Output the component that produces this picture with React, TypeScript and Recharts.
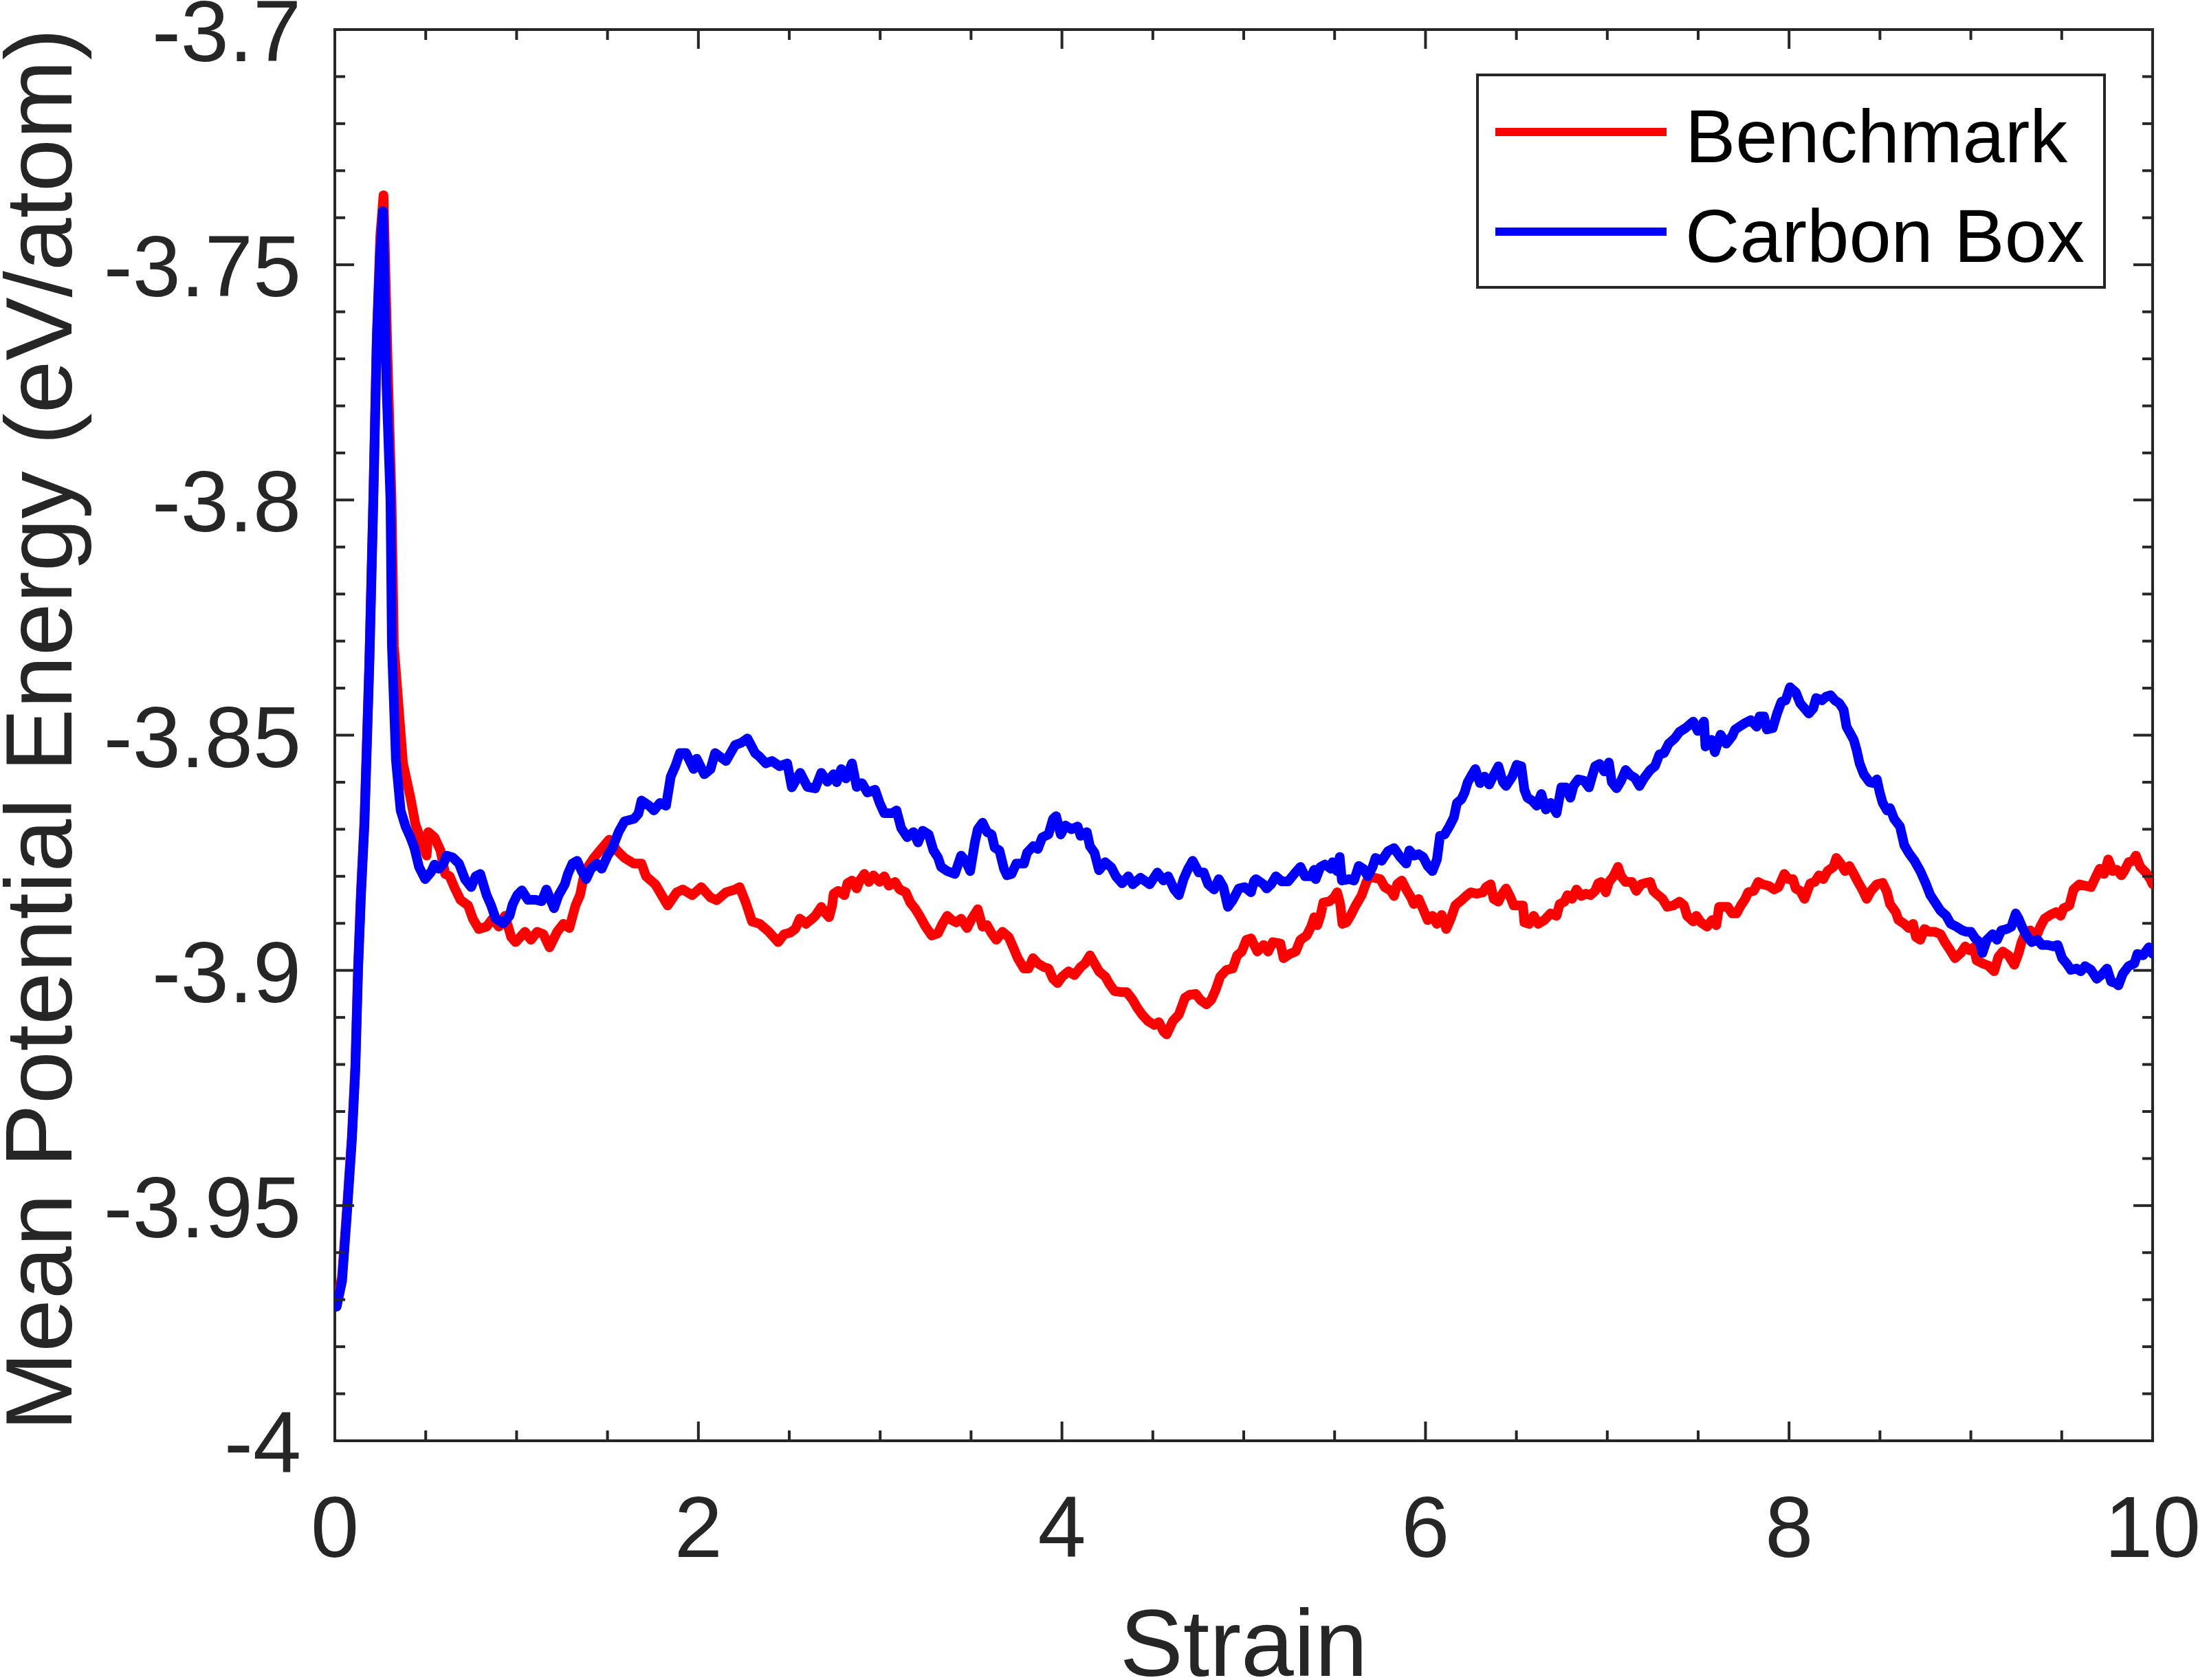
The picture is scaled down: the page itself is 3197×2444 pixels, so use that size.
import { LineChart, Line, XAxis, YAxis, ReferenceArea, Legend, Label } from 'recharts'

// figure geometry (px) — MATLAB-style boxed axes
const W = 3197
const H = 2444
const PLOT = { left: 487, top: 43, right: 3131, bottom: 2096 }
const INK = '#262626'
const FONT = '"Liberation Sans", Arial, Helvetica, sans-serif'

const X_DOMAIN: [number, number] = [0, 10]
const Y_DOMAIN: [number, number] = [-4, -3.7]
const X_LABELS = [0, 2, 4, 6, 8, 10]
const X_TICKS = Array.from({ length: 21 }, (_, i) => i * 0.5)
const Y_LABELS = [-4, -3.95, -3.9, -3.85, -3.8, -3.75, -3.7]
const Y_TICKS = Array.from({ length: 31 }, (_, i) => Math.round((-4 + i * 0.01) * 100) / 100)

// [strain, mean potential energy (eV/atom)]
const BENCHMARK: [number, number][] = [
  [0.01, -3.9712], [0.04, -3.965], [0.068, -3.95], [0.094, -3.935], [0.113, -3.92], [0.128, -3.899],
  [0.144, -3.883], [0.163, -3.868], [0.19, -3.834], [0.212, -3.799], [0.231, -3.765], [0.25, -3.744],
  [0.268, -3.7352], [0.29, -3.77], [0.312, -3.8], [0.325, -3.831], [0.375, -3.856], [0.416, -3.8633],
  [0.443, -3.8689], [0.505, -3.8756], [0.514, -3.8706], [0.548, -3.8717], [0.581, -3.8745], [0.607, -3.8795],
  [0.632, -3.88], [0.657, -3.8823], [0.691, -3.885], [0.733, -3.8862], [0.759, -3.889], [0.792, -3.8912],
  [0.835, -3.8907], [0.868, -3.889], [0.902, -3.8907], [0.936, -3.8884], [0.97, -3.8929], [0.995, -3.894],
  [1.02, -3.8929], [1.046, -3.8918], [1.079, -3.8935], [1.113, -3.8918], [1.147, -3.8923], [1.181, -3.8951],
  [1.223, -3.8918], [1.257, -3.8901], [1.29, -3.891], [1.324, -3.8862], [1.349, -3.884], [1.375, -3.879],
  [1.425, -3.8761], [1.459, -3.8745], [1.51, -3.8722], [1.552, -3.8745], [1.594, -3.8761], [1.645, -3.8773],
  [1.687, -3.8773], [1.712, -3.88], [1.763, -3.8817], [1.789, -3.8834], [1.831, -3.8862], [1.881, -3.8834],
  [1.915, -3.8828], [1.966, -3.884], [2.016, -3.8823], [2.067, -3.8845], [2.101, -3.8851], [2.152, -3.8834],
  [2.202, -3.8828], [2.227, -3.8823], [2.261, -3.8856], [2.295, -3.8896], [2.337, -3.8901], [2.388, -3.8918],
  [2.439, -3.894], [2.472, -3.8923], [2.505, -3.892], [2.533, -3.8912], [2.558, -3.889], [2.592, -3.8901],
  [2.617, -3.8893], [2.643, -3.8884], [2.676, -3.8865], [2.693, -3.8876], [2.719, -3.8887], [2.736, -3.8862],
  [2.744, -3.8837], [2.769, -3.8831], [2.803, -3.884], [2.82, -3.8815], [2.845, -3.8809], [2.871, -3.8826],
  [2.888, -3.8809], [2.913, -3.8795], [2.938, -3.8812], [2.963, -3.8798], [2.997, -3.8812], [3.023, -3.88],
  [3.048, -3.882], [3.082, -3.8812], [3.107, -3.8828], [3.141, -3.8834], [3.166, -3.8856], [3.191, -3.8868],
  [3.217, -3.8884], [3.25, -3.8907], [3.284, -3.8926], [3.318, -3.8921], [3.343, -3.8901], [3.369, -3.8884],
  [3.394, -3.8893], [3.419, -3.8898], [3.445, -3.889], [3.478, -3.891], [3.504, -3.889], [3.537, -3.887],
  [3.563, -3.8907], [3.588, -3.8904], [3.613, -3.8921], [3.639, -3.8935], [3.673, -3.8918], [3.707, -3.8929],
  [3.732, -3.8951], [3.757, -3.8974], [3.791, -3.8996], [3.816, -3.8996], [3.841, -3.8974], [3.867, -3.8985],
  [3.901, -3.8993], [3.926, -3.8996], [3.951, -3.9018], [3.976, -3.9027], [4.002, -3.9013], [4.036, -3.9002],
  [4.069, -3.901], [4.103, -3.8993], [4.128, -3.8985], [4.154, -3.8968], [4.179, -3.8985], [4.204, -3.9002],
  [4.238, -3.9013], [4.263, -3.903], [4.289, -3.9044], [4.323, -3.9046], [4.356, -3.9046], [4.39, -3.9063],
  [4.415, -3.908], [4.441, -3.9094], [4.474, -3.9108], [4.508, -3.9116], [4.533, -3.911], [4.559, -3.913],
  [4.576, -3.9136], [4.61, -3.9108], [4.643, -3.9094], [4.677, -3.9058], [4.702, -3.9052], [4.736, -3.905],
  [4.762, -3.9063], [4.795, -3.9072], [4.821, -3.9063], [4.846, -3.9041], [4.871, -3.9013], [4.905, -3.8999],
  [4.939, -3.8996], [4.964, -3.8968], [4.989, -3.896], [5.015, -3.8935], [5.04, -3.8932], [5.075, -3.896],
  [5.109, -3.8946], [5.134, -3.896], [5.16, -3.894], [5.202, -3.8943], [5.219, -3.8974], [5.253, -3.8965],
  [5.286, -3.896], [5.312, -3.8935], [5.346, -3.8926], [5.371, -3.8907], [5.388, -3.8887], [5.405, -3.8904],
  [5.422, -3.8884], [5.438, -3.8856], [5.472, -3.8853], [5.497, -3.8845], [5.514, -3.8834], [5.531, -3.8859],
  [5.543, -3.8901], [5.565, -3.8898], [5.59, -3.8882], [5.616, -3.8862], [5.649, -3.884], [5.675, -3.8812],
  [5.692, -3.88], [5.717, -3.8803], [5.751, -3.8806], [5.776, -3.8823], [5.81, -3.8831], [5.827, -3.8842],
  [5.844, -3.8817], [5.869, -3.8809], [5.894, -3.8828], [5.92, -3.8845], [5.936, -3.8859], [5.962, -3.8848],
  [5.987, -3.887], [6.012, -3.8893], [6.038, -3.8884], [6.063, -3.8901], [6.089, -3.8882], [6.114, -3.8912],
  [6.139, -3.889], [6.164, -3.8862], [6.198, -3.8851], [6.223, -3.8842], [6.249, -3.8834], [6.282, -3.8837],
  [6.316, -3.8834], [6.333, -3.8823], [6.358, -3.8817], [6.375, -3.8848], [6.401, -3.8854], [6.418, -3.884],
  [6.443, -3.8826], [6.468, -3.8845], [6.485, -3.8862], [6.51, -3.8862], [6.536, -3.8862], [6.544, -3.8898],
  [6.57, -3.8901], [6.595, -3.8884], [6.62, -3.8901], [6.654, -3.8893], [6.688, -3.8879], [6.721, -3.8884],
  [6.738, -3.8859], [6.764, -3.8854], [6.781, -3.884], [6.806, -3.8848], [6.831, -3.8828], [6.857, -3.8842],
  [6.882, -3.8837], [6.907, -3.884], [6.933, -3.8831], [6.95, -3.8815], [6.966, -3.8812], [6.992, -3.8834],
  [7.009, -3.8812], [7.034, -3.88], [7.059, -3.878], [7.076, -3.88], [7.101, -3.8812], [7.135, -3.8812],
  [7.16, -3.8831], [7.186, -3.8817], [7.211, -3.8814], [7.236, -3.8812], [7.253, -3.8831], [7.279, -3.884],
  [7.304, -3.8848], [7.33, -3.8865], [7.363, -3.8862], [7.397, -3.8854], [7.422, -3.8862], [7.439, -3.8884],
  [7.473, -3.8896], [7.49, -3.8884], [7.515, -3.8898], [7.549, -3.8907], [7.576, -3.8893], [7.6, -3.8904],
  [7.615, -3.8865], [7.639, -3.8865], [7.663, -3.8865], [7.687, -3.8879], [7.711, -3.8879], [7.735, -3.8862],
  [7.759, -3.8848], [7.775, -3.8834], [7.806, -3.8831], [7.83, -3.8812], [7.854, -3.8817], [7.886, -3.882],
  [7.918, -3.8828], [7.942, -3.8823], [7.974, -3.8795], [7.997, -3.8806], [8.021, -3.8806], [8.037, -3.8826],
  [8.061, -3.8831], [8.085, -3.8848], [8.117, -3.8815], [8.141, -3.8812], [8.165, -3.8798], [8.188, -3.8806],
  [8.212, -3.8789], [8.244, -3.878], [8.26, -3.8761], [8.284, -3.8773], [8.308, -3.8789], [8.332, -3.8778],
  [8.356, -3.8795], [8.379, -3.8812], [8.403, -3.8828], [8.427, -3.8848], [8.451, -3.8831], [8.483, -3.8817],
  [8.515, -3.8814], [8.539, -3.8834], [8.555, -3.8859], [8.587, -3.8876], [8.602, -3.8893], [8.634, -3.8901],
  [8.658, -3.891], [8.682, -3.8901], [8.698, -3.8929], [8.722, -3.8935], [8.745, -3.8912], [8.769, -3.8918],
  [8.801, -3.8918], [8.833, -3.8923], [8.857, -3.894], [8.881, -3.8954], [8.913, -3.8974], [8.945, -3.8963],
  [8.969, -3.8949], [8.992, -3.8957], [9.016, -3.8951], [9.032, -3.8979], [9.064, -3.8985], [9.096, -3.899],
  [9.128, -3.9002], [9.152, -3.8971], [9.176, -3.896], [9.207, -3.8968], [9.239, -3.8988], [9.263, -3.8963],
  [9.279, -3.894], [9.303, -3.8918], [9.327, -3.8915], [9.359, -3.8929], [9.382, -3.8907], [9.406, -3.889],
  [9.438, -3.8882], [9.47, -3.8876], [9.494, -3.8884], [9.51, -3.8868], [9.542, -3.8862], [9.565, -3.8828],
  [9.597, -3.8817], [9.629, -3.882], [9.661, -3.8823], [9.685, -3.8803], [9.709, -3.8784], [9.733, -3.8795],
  [9.756, -3.8764], [9.78, -3.8789], [9.804, -3.8786], [9.828, -3.8798], [9.844, -3.8789], [9.868, -3.877],
  [9.892, -3.8767], [9.908, -3.8756], [9.932, -3.878], [9.963, -3.8792], [9.987, -3.8806], [10, -3.8817],
]

const CARBON_BOX: [number, number][] = [
  [0.01, -3.9715], [0.04, -3.966], [0.068, -3.951], [0.094, -3.936], [0.113, -3.921], [0.128, -3.9],
  [0.144, -3.884], [0.163, -3.869], [0.19, -3.835], [0.212, -3.8], [0.231, -3.766], [0.25, -3.747],
  [0.265, -3.7386], [0.284, -3.7754], [0.306, -3.8], [0.314, -3.831], [0.336, -3.8552], [0.362, -3.866],
  [0.39, -3.8695], [0.416, -3.8717], [0.438, -3.874], [0.463, -3.878], [0.497, -3.8806], [0.531, -3.879],
  [0.548, -3.8775], [0.573, -3.8784], [0.598, -3.8773], [0.615, -3.8756], [0.649, -3.876], [0.683, -3.8773],
  [0.716, -3.8806], [0.75, -3.8823], [0.775, -3.88], [0.8, -3.8795], [0.835, -3.884], [0.86, -3.8862],
  [0.885, -3.889], [0.927, -3.89], [0.961, -3.8884], [0.978, -3.886], [1.003, -3.884], [1.029, -3.883],
  [1.062, -3.885], [1.105, -3.885], [1.138, -3.8853], [1.164, -3.8828], [1.206, -3.8868], [1.231, -3.884],
  [1.265, -3.8817], [1.282, -3.8795], [1.307, -3.8773], [1.333, -3.8767], [1.358, -3.8789], [1.383, -3.8806],
  [1.409, -3.8784], [1.442, -3.8773], [1.468, -3.8784], [1.501, -3.8756], [1.527, -3.874], [1.561, -3.8706],
  [1.594, -3.8683], [1.645, -3.8678], [1.67, -3.8667], [1.687, -3.8639], [1.729, -3.865], [1.755, -3.866],
  [1.789, -3.8644], [1.822, -3.865], [1.848, -3.8588], [1.873, -3.8566], [1.898, -3.8538], [1.932, -3.8538],
  [1.974, -3.8572], [1.991, -3.855], [2.033, -3.8583], [2.067, -3.8572], [2.092, -3.8538], [2.152, -3.8555],
  [2.202, -3.8521], [2.236, -3.8516], [2.27, -3.8507], [2.312, -3.8538], [2.337, -3.8546], [2.371, -3.856],
  [2.405, -3.8555], [2.447, -3.8566], [2.489, -3.856], [2.514, -3.8611], [2.56, -3.858], [2.6, -3.861],
  [2.643, -3.8613], [2.676, -3.858], [2.71, -3.8599], [2.744, -3.8583], [2.761, -3.86], [2.786, -3.8572],
  [2.812, -3.8592], [2.845, -3.856], [2.871, -3.861], [2.9, -3.8602], [2.93, -3.8622], [2.972, -3.8616],
  [2.997, -3.8644], [3.023, -3.8666], [3.065, -3.8666], [3.09, -3.866], [3.115, -3.8697], [3.149, -3.8717],
  [3.183, -3.8706], [3.208, -3.8728], [3.234, -3.8703], [3.267, -3.8711], [3.293, -3.8745], [3.318, -3.876],
  [3.335, -3.878], [3.369, -3.8789], [3.411, -3.8795], [3.445, -3.8756], [3.47, -3.8767], [3.495, -3.8789],
  [3.521, -3.8728], [3.537, -3.87], [3.563, -3.8686], [3.588, -3.8706], [3.613, -3.8711], [3.63, -3.8739],
  [3.656, -3.8745], [3.681, -3.8784], [3.698, -3.8798], [3.723, -3.8795], [3.749, -3.8773], [3.791, -3.8773],
  [3.808, -3.875], [3.842, -3.8736], [3.867, -3.8742], [3.892, -3.8717], [3.926, -3.8711], [3.951, -3.8678],
  [3.968, -3.8672], [3.993, -3.8711], [4.019, -3.8692], [4.052, -3.87], [4.086, -3.8694], [4.103, -3.8714],
  [4.137, -3.8706], [4.154, -3.8736], [4.179, -3.875], [4.204, -3.8787], [4.238, -3.877], [4.272, -3.8781],
  [4.297, -3.88], [4.331, -3.8815], [4.365, -3.88], [4.39, -3.8817], [4.432, -3.8803], [4.483, -3.8817],
  [4.525, -3.8792], [4.559, -3.8809], [4.584, -3.88], [4.618, -3.8828], [4.643, -3.884], [4.669, -3.8806],
  [4.694, -3.8784], [4.719, -3.8767], [4.753, -3.8792], [4.78, -3.8792], [4.804, -3.8817], [4.837, -3.8828],
  [4.863, -3.8806], [4.888, -3.8823], [4.913, -3.8865], [4.939, -3.8851], [4.973, -3.8826], [5.006, -3.8823],
  [5.04, -3.8834], [5.057, -3.881], [5.067, -3.8806], [5.109, -3.8817], [5.126, -3.8826], [5.151, -3.8817],
  [5.177, -3.88], [5.21, -3.8811], [5.244, -3.8811], [5.278, -3.8795], [5.312, -3.878], [5.337, -3.88],
  [5.371, -3.88], [5.388, -3.8786], [5.396, -3.8806], [5.422, -3.878], [5.447, -3.8775], [5.481, -3.8784],
  [5.489, -3.877], [5.514, -3.8789], [5.528, -3.8759], [5.54, -3.8809], [5.582, -3.8806], [5.607, -3.8809],
  [5.633, -3.8778], [5.658, -3.8784], [5.683, -3.88], [5.709, -3.878], [5.725, -3.8761], [5.759, -3.8767],
  [5.793, -3.8747], [5.827, -3.874], [5.861, -3.8759], [5.894, -3.8773], [5.911, -3.8745], [5.936, -3.8756],
  [5.962, -3.8753], [5.987, -3.8759], [6.012, -3.8778], [6.038, -3.8789], [6.063, -3.8764], [6.08, -3.8714],
  [6.105, -3.8711], [6.131, -3.8694], [6.156, -3.8675], [6.173, -3.8644], [6.198, -3.8636], [6.215, -3.8622],
  [6.232, -3.86], [6.257, -3.8583], [6.274, -3.8572], [6.3, -3.8602], [6.325, -3.8588], [6.35, -3.8605],
  [6.375, -3.8585], [6.401, -3.8566], [6.426, -3.86], [6.443, -3.8608], [6.477, -3.8588], [6.502, -3.8563],
  [6.527, -3.8566], [6.544, -3.8616], [6.561, -3.8633], [6.586, -3.8639], [6.612, -3.865], [6.637, -3.8625],
  [6.662, -3.8658], [6.688, -3.8644], [6.721, -3.8666], [6.747, -3.8611], [6.772, -3.8611], [6.797, -3.8633],
  [6.814, -3.8608], [6.84, -3.8594], [6.873, -3.8597], [6.899, -3.8611], [6.916, -3.8588], [6.933, -3.8566],
  [6.958, -3.8561], [6.983, -3.8577], [7.009, -3.8558], [7.025, -3.86], [7.051, -3.8613], [7.076, -3.8597],
  [7.101, -3.8574], [7.127, -3.8585], [7.152, -3.8591], [7.177, -3.8608], [7.203, -3.8591], [7.236, -3.8574],
  [7.262, -3.8566], [7.287, -3.8541], [7.312, -3.8538], [7.338, -3.8518], [7.371, -3.8507], [7.397, -3.8493],
  [7.43, -3.8485], [7.473, -3.8471], [7.498, -3.8491], [7.532, -3.8471], [7.54, -3.8524], [7.574, -3.851],
  [7.592, -3.8536], [7.623, -3.8499], [7.655, -3.8518], [7.687, -3.8502], [7.703, -3.8488], [7.727, -3.8482],
  [7.759, -3.8474], [7.79, -3.8468], [7.822, -3.8482], [7.838, -3.846], [7.862, -3.846], [7.878, -3.8488],
  [7.91, -3.8485], [7.934, -3.8454], [7.958, -3.8429], [7.981, -3.8426], [8.005, -3.8398], [8.037, -3.8409],
  [8.061, -3.8432], [8.085, -3.8443], [8.109, -3.8454], [8.133, -3.8443], [8.149, -3.8421], [8.181, -3.8426],
  [8.204, -3.8418], [8.228, -3.8415], [8.252, -3.8426], [8.276, -3.8432], [8.3, -3.8446], [8.316, -3.8482],
  [8.332, -3.8493], [8.356, -3.851], [8.372, -3.8532], [8.388, -3.856], [8.411, -3.8583], [8.443, -3.86],
  [8.467, -3.8602], [8.483, -3.8594], [8.499, -3.8622], [8.515, -3.8644], [8.539, -3.866], [8.555, -3.8655],
  [8.578, -3.8678], [8.61, -3.8694], [8.634, -3.8734], [8.658, -3.875], [8.69, -3.8767], [8.722, -3.8789],
  [8.754, -3.8817], [8.777, -3.884], [8.801, -3.8854], [8.833, -3.8873], [8.865, -3.8884], [8.889, -3.8901],
  [8.921, -3.8907], [8.953, -3.8915], [8.976, -3.8918], [9.0, -3.8918], [9.024, -3.8932], [9.048, -3.894],
  [9.064, -3.8963], [9.088, -3.8935], [9.12, -3.8923], [9.144, -3.8935], [9.168, -3.8915], [9.199, -3.8912],
  [9.223, -3.8907], [9.247, -3.8879], [9.263, -3.889], [9.287, -3.8912], [9.311, -3.8929], [9.335, -3.894],
  [9.367, -3.8935], [9.39, -3.8946], [9.422, -3.8946], [9.454, -3.8949], [9.478, -3.8946], [9.502, -3.8974],
  [9.526, -3.8985], [9.55, -3.8999], [9.581, -3.8996], [9.605, -3.9002], [9.629, -3.8991], [9.661, -3.8999],
  [9.693, -3.9018], [9.717, -3.901], [9.749, -3.8996], [9.772, -3.9024], [9.796, -3.9027], [9.812, -3.9032],
  [9.836, -3.9007], [9.868, -3.8991], [9.9, -3.8985], [9.916, -3.8965], [9.947, -3.8968], [9.979, -3.8951],
  [10, -3.8965],
]

const benchData = BENCHMARK.map(([s, e]) => ({ s, e }))
const carbonData = CARBON_BOX.map(([s, e]) => ({ s, e }))

const isMajor = (list: number[], v: number) => list.some((l) => Math.abs(l - v) < 1e-9)

// inward ticks on bottom + mirrored on top (box on)
function XTick({ x, y, payload }: any) {
  const v = payload.value
  const major = isMajor(X_LABELS, v)
  const len = major ? 28 : 15
  return (
    <g>
      <line x1={x} y1={PLOT.bottom} x2={x} y2={PLOT.bottom - len} stroke={INK} strokeWidth={4} />
      <line x1={x} y1={PLOT.top} x2={x} y2={PLOT.top + len} stroke={INK} strokeWidth={4} />
      {major && (
        <text x={x} y={y + 169} textAnchor="middle" fontSize={126} fontFamily={FONT} fill={INK}>
          {v}
        </text>
      )}
    </g>
  )
}

function YTick({ x, y, payload }: any) {
  const v = payload.value
  const major = isMajor(Y_LABELS, v)
  const len = major ? 28 : 15
  return (
    <g>
      <line x1={PLOT.left} y1={y} x2={PLOT.left + len} y2={y} stroke={INK} strokeWidth={4} />
      <line x1={PLOT.right} y1={y} x2={PLOT.right - len} y2={y} stroke={INK} strokeWidth={4} />
      {major && (
        <text x={x - 49} y={y + 46} textAnchor="end" fontSize={126} fontFamily={FONT} fill={INK}>
          {String(v)}
        </text>
      )}
    </g>
  )
}

function LegendBox({ payload }: any) {
  const items = payload ?? []
  return (
    <svg width={920} height={317} style={{ display: 'block' }}>
      <rect x={4} y={4} width={912} height={309} fill="#fff" stroke={INK} strokeWidth={4} />
      {items.map((p: any, i: number) => (
        <g key={p.value}>
          <line x1={30} x2={279} y1={87 + i * 145} y2={87 + i * 145} stroke={p.color} strokeWidth={12} />
          <text x={306} y={131 + i * 145} fontSize={110} fontFamily={FONT} fill="#000">
            {p.value}
          </text>
        </g>
      ))}
    </svg>
  )
}

export default function App() {
  return (
    <div style={{ position: 'absolute', left: 0, top: 0, width: W, height: H, background: '#fff' }}>
      <LineChart
        width={W}
        height={H}
        margin={{ top: PLOT.top, right: W - PLOT.right, bottom: 48, left: 87 }}
      >
        <XAxis
          xAxisId="x"
          type="number"
          dataKey="s"
          domain={X_DOMAIN}
          allowDataOverflow
          ticks={X_TICKS}
          interval={0}
          tick={<XTick />}
          tickSize={0}
          tickMargin={0}
          tickLine={false}
          axisLine={false}
          height={H - 48 - PLOT.bottom}
        >
          <Label
            content={({ viewBox }: any) => (
              <text
                x={viewBox.x + viewBox.width / 2}
                y={viewBox.y + 342}
                textAnchor="middle"
                fontSize={138}
                fontFamily={FONT}
                fill={INK}
              >
                Strain
              </text>
            )}
          />
        </XAxis>
        <YAxis
          yAxisId="y"
          type="number"
          domain={Y_DOMAIN}
          allowDataOverflow
          ticks={Y_TICKS}
          interval={0}
          tick={<YTick />}
          tickSize={0}
          tickMargin={0}
          tickLine={false}
          axisLine={false}
          width={PLOT.left - 87}
        >
          <Label
            content={({ viewBox }: any) => {
              const cx = viewBox.x + viewBox.width - 383
              const cy = viewBox.y + viewBox.height / 2 - 8
              return (
                <text
                  x={cx}
                  y={cy}
                  transform={`rotate(-90, ${cx}, ${cy})`}
                  textAnchor="middle"
                  fontSize={138}
                  fontFamily={FONT}
                  fill={INK}
                >
                  Mean Potential Energy (eV/atom)
                </text>
              )
            }}
          />
        </YAxis>
        <ReferenceArea
          xAxisId="x"
          yAxisId="y"
          x1={X_DOMAIN[0]}
          x2={X_DOMAIN[1]}
          y1={Y_DOMAIN[0]}
          y2={Y_DOMAIN[1]}
          fill="none"
          stroke={INK}
          strokeWidth={4}
          ifOverflow="visible"
        />
        <Line
          xAxisId="x"
          yAxisId="y"
          data={benchData}
          dataKey="e"
          name="Benchmark"
          type="linear"
          stroke="#ff0000"
          strokeWidth={14}
          strokeLinejoin="round"
          strokeLinecap="round"
          dot={false}
          activeDot={false}
          isAnimationActive={false}
        />
        <Line
          xAxisId="x"
          yAxisId="y"
          data={carbonData}
          dataKey="e"
          name="Carbon Box"
          type="linear"
          stroke="#0000ff"
          strokeWidth={14}
          strokeLinejoin="round"
          strokeLinecap="round"
          dot={false}
          activeDot={false}
          isAnimationActive={false}
        />
        <Legend
          layout="vertical"
          align="center"
          verticalAlign="middle"
          content={<LegendBox />}
          wrapperStyle={{ left: 2145, top: 105, width: 920, height: 317 }}
        />
      </LineChart>
    </div>
  )
}
